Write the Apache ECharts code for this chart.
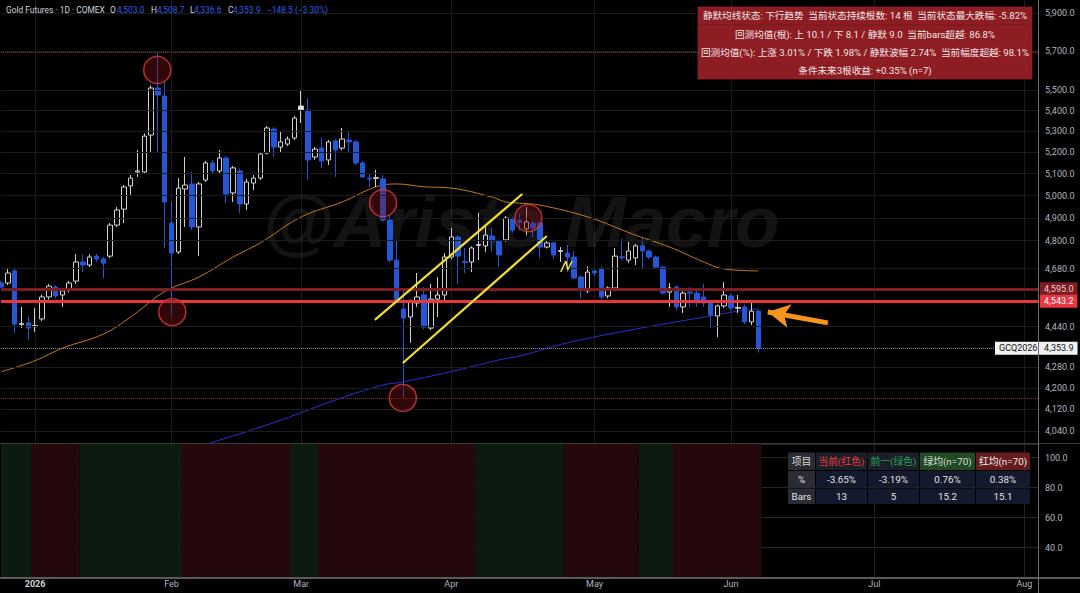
<!DOCTYPE html>
<html><head><meta charset="utf-8">
<script src="https://cdn.jsdelivr.net/npm/echarts@6/dist/echarts.min.js"></script>
<style>html,body{margin:0;padding:0;background:#000;overflow:hidden}#c{width:1080px;height:593px}</style>
</head><body><div id="c"></div>
<script>
// ---------------- DATA ----------------
// candle index: 0 = 2026-01-02 ; first candle is index -5 (2025-12-24)
const FIRST_IDX = -5;
const open = [4619,4619,4670,4448,4455,
 4440,4471,4561,4602,4569,4590,4627,4708,4695,4733,
 4721,4733,4868,4939,5044,5108,5108,5282,5512,5472,
 4877,4751,5030,5053,4860,5071,5150,5113,5173,5012,
 5113,4962,5057,5080,5197,5311,5225,5239,5268,5405,
 5403,5178,5220,5164,5254,5220,5258,5249,5150,5080,
 5078,5076,4890,4716,4511,4479,4536,4569,4434,4552,
 4569,4729,4816,4710,4708,4779,4777,4820,4798,4803,
 4895,4890,4851,4877,4877,4772,4790,4753,4746,4729,
 4644,4586,4670,4678,4565,4598,4730,4716,4725,4777,
 4755,4729,4686,4581,4602,4520,4581,4577,4561,4536,
 4483,4524,4565,4514,4520,4459,4503.0];
const close = [4602,4661,4450,4452,4434,
 4444,4561,4606,4565,4586,4619,4708,4695,4729,4721,
 4703,4868,4935,5039,5080,5113,5277,5512,5477,4971,
 4746,5034,5048,4860,5053,5150,5113,5173,5007,5127,
 4962,5062,5080,5192,5316,5225,5249,5263,5364,5423,
 5164,5215,5159,5249,5211,5263,5249,5150,5085,5076,
 5082,4890,4716,4548,4475,4540,4561,4438,4552,4569,
 4729,4816,4733,4706,4768,4783,4824,4798,4738,4899,
 4846,4880,4882,4855,4772,4790,4738,4757,4729,4640,
 4590,4665,4661,4561,4598,4733,4726,4755,4777,4755,
 4729,4686,4577,4598,4520,4577,4577,4540,4536,4487,
 4524,4569,4516,4518,4459,4502.4,4353.9];
const low = [4598,4610,4414,4434,4386,
 4418,4462,4550,4555,4520,4580,4615,4665,4686,4708,
 4640,4725,4860,4877,5003,5085,5103,5197,5197,4768,
 4487,4742,4860,4846,4733,5062,5103,5103,4966,4971,
 4922,4935,5025,5071,5190,5178,5201,5230,5258,5340,
 5071,5165,5127,5140,5085,5210,5201,5140,5080,5039,
 5039,4882,4708,4540,4165,4375,4520,4430,4425,4479,
 4540,4720,4615,4661,4665,4716,4751,4751,4686,4795,
 4835,4845,4824,4815,4725,4766,4720,4708,4665,4636,
 4556,4577,4650,4550,4555,4590,4716,4703,4695,4682,
 4720,4680,4570,4520,4507,4495,4520,4520,4520,4434,
 4398,4515,4505,4495,4450,4446,4336.6];
const high = [4627,4682,4682,4520,4479,
 4516,4570,4615,4610,4594,4627,4742,4738,4742,4742,
 4729,4877,4948,5048,5094,5211,5290,5525,5695,5542,
 4971,5080,5178,5108,5062,5159,5164,5211,5182,5136,
 5125,5076,5094,5200,5325,5320,5300,5275,5375,5502,
 5462,5225,5268,5258,5263,5316,5300,5258,5159,5103,
 5118,5094,4913,4803,4598,4550,4661,4602,4615,4644,
 4746,4855,4825,4768,4775,4922,4860,4855,4805,4908,
 4905,4920,4948,4888,4882,4800,4795,4772,4781,4755,
 4650,4690,4675,4690,4605,4768,4807,4794,4785,4810,
 4760,4735,4692,4619,4610,4585,4602,4585,4615,4545,
 4530,4623,4575,4569,4530,4540,4508.7];
const whiteBodyIdx = [39];

// moving averages (candle index, price)
const ma50Idx = [-5,0,4,10,14,18,20,24,29,33,39,45,50,53,57,61,67,69,71,74,81,88,93,98,101,106];
const ma50Val = [4262,4305,4354,4410,4479,4565,4598,4644,4729,4790,4904,4971,5040,5053,5040,5034,4993,4971,4966,4957,4904,4824,4772,4708,4678,4670];
const ma200Idx = [20,25,35,44,51,54,62,68,71,78,88,98,104,106];
const ma200Val = [3950,3990,4070,4154,4211,4223,4269,4308,4323,4375,4430,4478,4507,4511];

const priceTicks = [5900,5700,5500,5400,5300,5200,5100,5000,4900,4800,4680,4440,4280,4200,4120,4040];
const levelDark = 4595.0, levelRed = 4543.2, lastPrice = 4353.9, swingHigh = 5695, swingLow = 4162;

const circleIdx = [17.9, 20.1, 51.0, 53.9, 72.3];
const circleVal = [5603, 4499, 4966, 4162, 4899];
const channelUpper = [[49.8, 4467], [71.4, 5007]];
const channelLower = [[53.9, 4296], [75.0, 4820]];
const zigzag = [[77.05, 4666], [77.8, 4712], [78.07, 4674], [78.7, 4712]];
const arrowFrom = [116.2, 4455], arrowTo = [107.4, 4499];

const bandStart = [-5, 0, 7, 22, 38, 42, 65, 78, 89, 94];
const bandEnd   = [-1, 6, 21, 37, 41, 64, 77, 88, 93, 106];
const bandType  = ['g','r','g','r','g','r','g','r','g','r'];

const monthLabels = {'2026-01-02':'2026','2026-02-02':'Feb','2026-03-02':'Mar','2026-04-01':'Apr',
  '2026-05-01':'May','2026-06-01':'Jun','2026-07-01':'Jul','2026-08-03':'Aug'};

const headerParts = [['Gold Futures · 1D · COMEX','l'],['O','l'],['4,503.0','v'],['H','l'],['4,508.7','v'],
  ['L','l'],['4,336.6','v'],['C','l'],['4,353.9','v'],['−148.5 (−3.30%)','v']];
const infoRows = ['静默均线状态: 下行趋势  当前状态持续根数: 14 根  当前状态最大跌幅: -5.82%',
  '回测均值(根): 上 10.1 / 下 8.1 / 静默 9.0  当前bars超越: 86.8%',
  '回测均值(%): 上涨 3.01% / 下跌 1.98% / 静默波幅 2.74%  当前幅度超越: 98.1%',
  '条件未来3根收益: +0.35% (n=7)'];
const tableHeader = ['项目','当前(红色)','前一(绿色)','绿均(n=70)','红均(n=70)'];
const tableRows = [['%','-3.65%','-3.19%','0.76%','0.38%'],['Bars','13','5','15.2','15.1']];
const watermark = '@Aristo Macro';

// ---------------- BUILD ----------------
const HOLIDAYS = new Set(['2025-12-25','2026-01-01','2026-01-19','2026-02-16','2026-04-03','2026-05-25','2026-06-19','2026-07-03']);
const dates = [];
for (let t = Date.UTC(2025,11,24); t <= Date.UTC(2026,7,5); t += 86400000) {
  const d = new Date(t), wd = d.getUTCDay(), s = d.toISOString().slice(0,10);
  if (wd === 0 || wd === 6 || HOLIDAYS.has(s)) continue;
  dates.push(s);
}
const idxMin = FIRST_IDX, idxMax = FIRST_IDX + dates.length - 1;
const FONT = 'Roboto, "Noto Sans CJK SC", "Noto Sans", sans-serif';
const AX = '#b2b5be';
const fmt = v => v.toLocaleString('en-US', {minimumFractionDigits:1, maximumFractionDigits:1});

const candleData = dates.map((d, i) => {
  if (i >= open.length) return '-';
  const item = {value: [open[i], close[i], low[i], high[i]]};
  if (whiteBodyIdx.includes(i + FIRST_IDX)) item.itemStyle = {color: '#e6e6e6'};
  return item;
});

const tickLines = priceTicks.map(v => ({yAxis: v, lineStyle: {color: '#1c1c1c', width: 1, type: 'solid'},
  label: {show: true, position: 'end', formatter: fmt(v), color: AX, fontSize: 9, fontFamily: FONT, distance: 7}}));

const levelLines = [
  {yAxis: swingHigh, lineStyle: {color: '#8a3d28', width: 1, type: 'dotted'}, label: {show: false}},
  {yAxis: swingLow, lineStyle: {color: '#7a3328', width: 1, type: 'dotted'}, label: {show: false}},
  {yAxis: lastPrice, lineStyle: {color: '#8c8c8c', width: 1, type: 'dotted'},
    label: {show: true, position: 'end', formatter: 'GCQ2026   ' + fmt(lastPrice), color: '#111', backgroundColor: '#f2f2f2',
      padding: [2, 4], fontSize: 9, fontFamily: FONT, distance: 5, offset: [-48, 0]}},
  {yAxis: levelDark, lineStyle: {color: '#7e1c23', width: 3, type: 'solid'},
    label: {show: true, position: 'end', formatter: fmt(levelDark), color: '#e9cfd0', backgroundColor: '#7e1c23',
      padding: [2, 4], fontSize: 9, fontFamily: FONT, distance: 2}},
  {yAxis: levelRed, lineStyle: {color: '#e8353e', width: 3, type: 'solid'},
    label: {show: true, position: 'end', formatter: fmt(levelRed), color: '#fff', backgroundColor: '#e8353e',
      padding: [2, 4], fontSize: 9, fontFamily: FONT, distance: 2}}
];

const bandAreas = bandStart.map((s, k) => [
  {xAxis: s - 0.5, itemStyle: {color: bandType[k] === 'g' ? '#0c1a10' : '#25080c'}},
  {xAxis: bandEnd[k] + 0.5}
]);

// graphics (decorations / tables)
const G = [];
G.push({type: 'text', x: 521, y: 221, z: 1, silent: true,
  style: {text: watermark, fill: 'rgba(255,255,255,0.075)', fontSize: 73, fontWeight: 'bold', fontStyle: 'italic',
    fontFamily: '"Liberation Sans", Arial, sans-serif', textAlign: 'center', textVerticalAlign: 'middle', align: 'center', verticalAlign: 'middle'}});
// header
(function(){
  const xs = [6, 110, 117, 151, 157, 190, 194, 228, 233, 267];
  headerParts.forEach((p, k) => G.push({type: 'text', x: xs[k], y: 10, z: 50,
    style: {text: p[0], fill: p[1] === 'l' ? '#d1d4dc' : '#2f5fe8', fontSize: 8.4, fontFamily: FONT,
      textVerticalAlign: 'middle', verticalAlign: 'middle'}}));
})();
// info box
(function(){
  const ys = [7, 25.5, 43.5, 61.5], h = 17.5;
  infoRows.forEach((t, k) => {
    G.push({type: 'rect', z: 50, shape: {x: 698, y: ys[k], width: 334, height: h}, style: {fill: '#8e1c23', stroke: '#a5262d', lineWidth: 0.6}});
    G.push({type: 'text', z: 51, x: 865, y: ys[k] + h / 2, style: {text: t, fill: '#f2e6e6', fontSize: 9.6, fontFamily: FONT,
      textAlign: 'center', align: 'center', textVerticalAlign: 'middle', verticalAlign: 'middle'}});
  });
})();
// bottom table
(function(){
  const cx = [788, 816, 868, 920, 976, 1031];
  const ry = [452.5, 471, 488.5, 505];
  const headBg = ['#2b2c33', '#1d1f28', '#1d1f28', '#1f4a24', '#661c1f'];
  const headFg = ['#d6d6d6', '#e5393f', '#22a05a', '#dcdcdc', '#ececec'];
  for (let c = 0; c < 5; c++) {
    G.push({type: 'rect', z: 50, shape: {x: cx[c], y: ry[0], width: cx[c+1] - cx[c] - 1, height: ry[1] - ry[0] - 1}, style: {fill: headBg[c]}});
    G.push({type: 'text', z: 51, x: (cx[c] + cx[c+1] - 1) / 2, y: (ry[0] + ry[1] - 1) / 2,
      style: {text: tableHeader[c], fill: headFg[c], fontSize: 9.8, fontFamily: FONT, textAlign: 'center', align: 'center', textVerticalAlign: 'middle', verticalAlign: 'middle'}});
    for (let r = 0; r < 2; r++) {
      G.push({type: 'rect', z: 50, shape: {x: cx[c], y: ry[r+1], width: cx[c+1] - cx[c] - 1, height: ry[r+2] - ry[r+1] - 1},
        style: {fill: c === 0 ? '#2a2c35' : '#131a2d'}});
      G.push({type: 'text', z: 51, x: (cx[c] + cx[c+1] - 1) / 2, y: (ry[r+1] + ry[r+2] - 1) / 2,
        style: {text: tableRows[r][c], fill: '#e2e2e2', fontSize: 9.8, fontFamily: FONT, textAlign: 'center', align: 'center', textVerticalAlign: 'middle', verticalAlign: 'middle'}});
    }
  }
})();
// frame lines
G.push({type: 'line', z: 40, shape: {x1: 0, y1: 443.5, x2: 1080, y2: 443.5}, style: {stroke: '#3a3a3a', lineWidth: 1}});
G.push({type: 'line', z: 40, shape: {x1: 0, y1: 578, x2: 1080, y2: 578}, style: {stroke: '#5a5a5a', lineWidth: 2}});
G.push({type: 'line', z: 60, shape: {x1: 1038.5, y1: 0, x2: 1038.5, y2: 593}, style: {stroke: '#6e6e6e', lineWidth: 1}});

const chart = echarts.init(document.getElementById('c'), null, {renderer: 'svg'});
chart.setOption({
  backgroundColor: '#000',
  animation: false,
  textStyle: {fontFamily: FONT},
  grid: [{left: 1, right: 42, top: 0, height: 443}, {left: 1, right: 42, top: 444, height: 133.5}],
  xAxis: [
    {type: 'category', gridIndex: 0, data: dates, boundaryGap: false, axisLine: {show: false}, axisTick: {show: false},
      axisLabel: {show: false}, splitLine: {show: true, interval: (i, v) => !!monthLabels[v], lineStyle: {color: '#1b1b1b'}}},
    {type: 'category', gridIndex: 1, data: dates, boundaryGap: false, axisLine: {show: false}, axisTick: {show: false},
      axisLabel: {show: true, interval: (i, v) => !!monthLabels[v], margin: 2, color: AX, fontSize: 9,
        formatter: v => monthLabels[v] === '2026' ? '{b|2026}' : (monthLabels[v] || ''),
        rich: {b: {fontWeight: 'bold', color: '#d1d4dc', fontSize: 9}}},
      splitLine: {show: true, interval: (i, v) => !!monthLabels[v], lineStyle: {color: '#222'}}},
    {type: 'value', gridIndex: 0, min: idxMin, max: idxMax, show: false},
    {type: 'value', gridIndex: 1, min: idxMin, max: idxMax, show: false}
  ],
  yAxis: [
    {type: 'log', gridIndex: 0, position: 'right', logBase: 10, min: 3995.4, max: 5969.9,
      axisLine: {show: false}, axisTick: {show: false}, axisLabel: {show: false}, splitLine: {show: false}},
    {type: 'value', gridIndex: 1, position: 'right', min: 20, max: 109.1, interval: 20,
      axisLine: {show: false}, axisTick: {show: false},
      axisLabel: {color: AX, fontSize: 9, margin: 7, formatter: v => v.toFixed(1), showMinLabel: false, showMaxLabel: false},
      splitLine: {show: true, lineStyle: {color: '#262626'}}}
  ],
  series: [
    {name: 'grid', type: 'line', xAxisIndex: 0, yAxisIndex: 0, data: [], z: 0, silent: true,
      markLine: {silent: true, symbol: ['none', 'none'], animation: false, data: tickLines}},
    {name: 'bands', type: 'line', xAxisIndex: 3, yAxisIndex: 1, data: [], z: 0, silent: true,
      markArea: {silent: true, data: bandAreas}},
    {name: 'ma200', type: 'line', xAxisIndex: 2, yAxisIndex: 0, data: ma200Idx.map((x, k) => [x, ma200Val[k]]),
      smooth: 0.4, showSymbol: false, z: 2, lineStyle: {color: '#2a2fcf', width: 1}},
    {name: 'ma50', type: 'line', xAxisIndex: 2, yAxisIndex: 0, data: ma50Idx.map((x, k) => [x, ma50Val[k]]),
      smooth: 0.4, showSymbol: false, z: 2, lineStyle: {color: '#c27a1c', width: 1}},
    {name: 'GC', type: 'candlestick', xAxisIndex: 0, yAxisIndex: 0, data: candleData, barWidth: 5, z: 3,
      itemStyle: {color: '#000', color0: '#2457d8', borderColor: '#cfcfcf', borderColor0: '#2457d8', borderWidth: 1}},
    {name: 'levels', type: 'line', xAxisIndex: 0, yAxisIndex: 0, data: [], z: 4, silent: true,
      markLine: {silent: true, symbol: ['none', 'none'], animation: false, data: levelLines}},
    {name: 'chanU', type: 'line', xAxisIndex: 2, yAxisIndex: 0, data: channelUpper, showSymbol: false, z: 5,
      lineStyle: {color: '#f2e12c', width: 2.2}},
    {name: 'chanL', type: 'line', xAxisIndex: 2, yAxisIndex: 0, data: channelLower, showSymbol: false, z: 5,
      lineStyle: {color: '#f2e12c', width: 2.2}},
    {name: 'zig', type: 'line', xAxisIndex: 2, yAxisIndex: 0, data: zigzag, showSymbol: false, z: 5,
      lineStyle: {color: '#f2e12c', width: 1.5}},
    {name: 'circles', type: 'scatter', xAxisIndex: 2, yAxisIndex: 0, data: circleIdx.map((x, k) => [x, circleVal[k]]),
      symbol: 'circle', symbolSize: 27, z: 6, silent: true,
      itemStyle: {color: 'rgba(120,14,20,0.5)', borderColor: '#d8393f', borderWidth: 1.5}},
    {name: 'arrow', type: 'line', xAxisIndex: 2, yAxisIndex: 0, data: [], z: 6, silent: true,
      markLine: {silent: true, animation: false, symbol: ['none', 'arrow'], symbolSize: [18, 22],
        lineStyle: {color: '#f7941d', width: 5, type: 'solid'}, label: {show: false},
        data: [[{coord: arrowFrom}, {coord: arrowTo}]]}}
  ],
  graphic: {elements: G}
});
</script></body></html>
